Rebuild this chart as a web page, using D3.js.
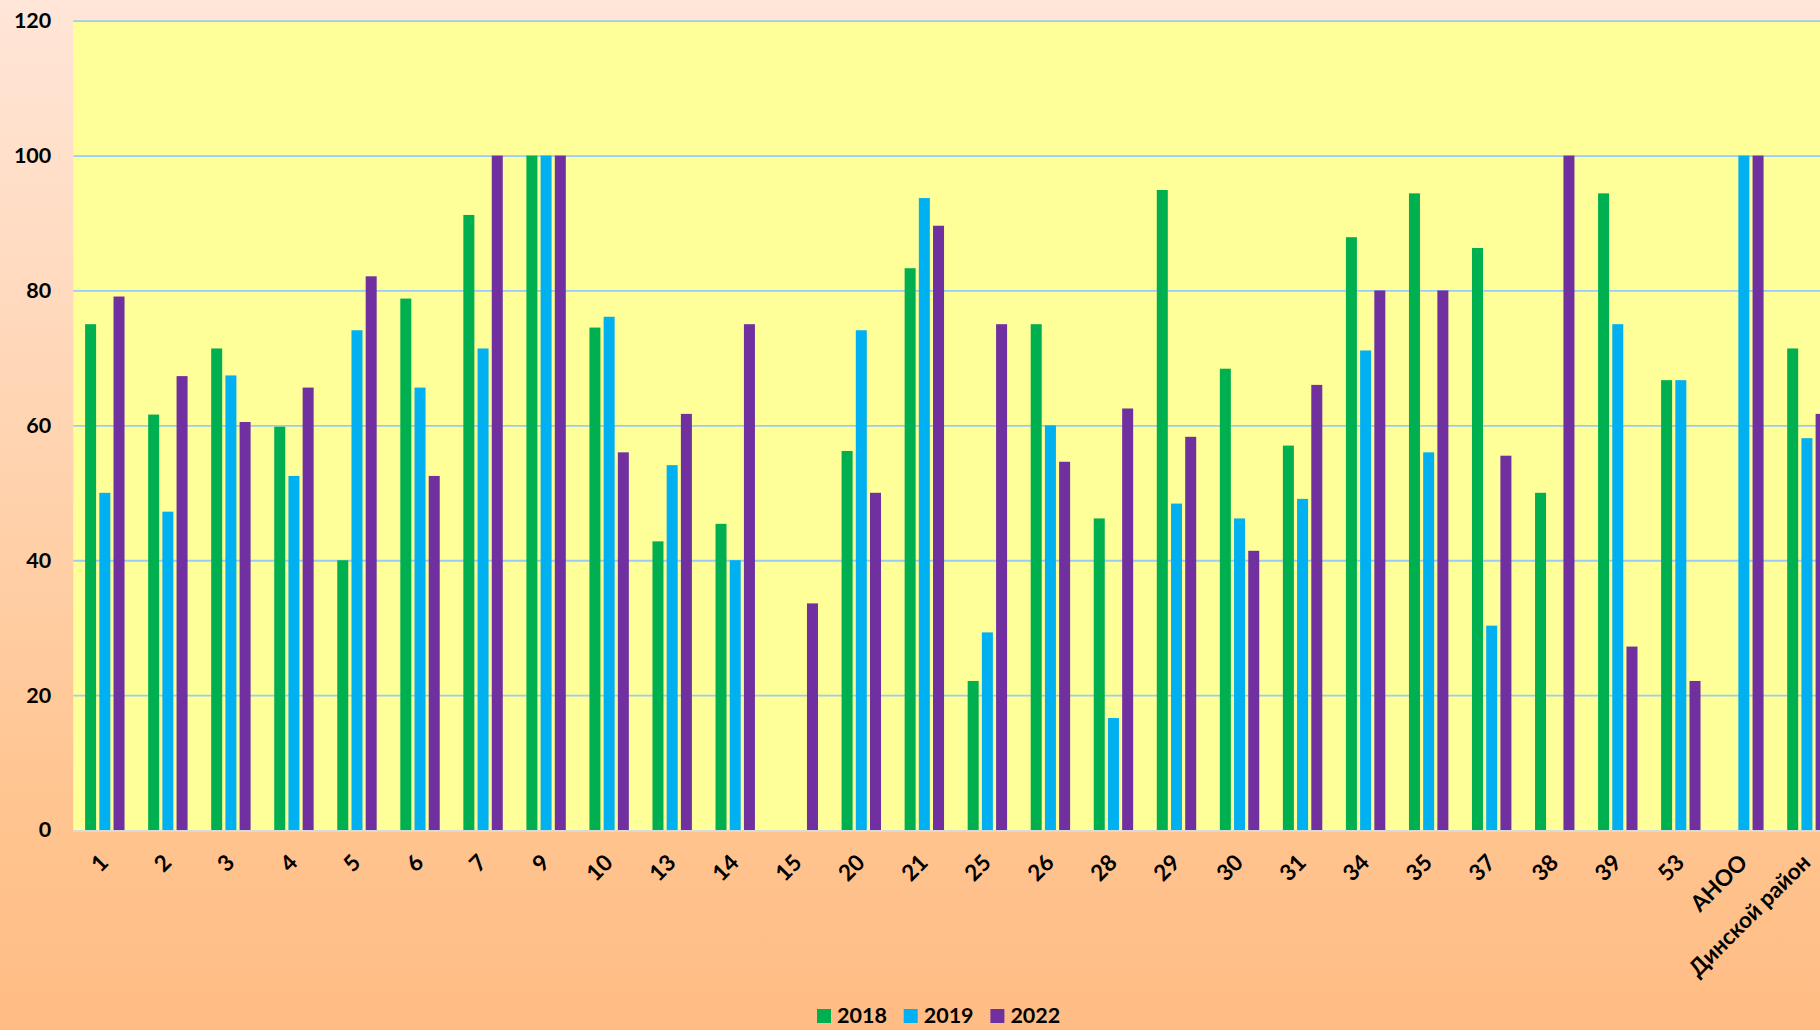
<!doctype html>
<html lang="ru">
	<head>
		<meta charset="utf-8" />
		<title>2018 / 2019 / 2022</title>
		<script type="text/javascript" src="https://d3js.org/d3.v7.min.js"></script>
		<style>
			body { margin: 0; padding: 0; overflow: hidden; }
			svg { display: block; }
		</style>
	</head>

	<body>
		<script type="text/javascript">
			// chart values
			var categories = ["1", "2", "3", "4", "5", "6", "7", "9", "10", "13", "14", "15", "20", "21", "25", "26", "28", "29", "30", "31", "34", "35", "37", "38", "39", "53", "АНОО", "Динской район"];
			var seriesNames = ["2018", "2019", "2022"];
			var values2018 = [75.0, 61.6, 71.4, 59.8, 40.0, 78.8, 91.2, 100, 74.5, 42.8, 45.4, null, 56.2, 83.3, 22.1, 75.0, 46.2, 94.9, 68.4, 57.0, 87.9, 94.4, 86.3, 50.0, 94.4, 66.7, null, 71.4];
			var values2019 = [50.0, 47.2, 67.4, 52.5, 74.1, 65.6, 71.4, 100, 76.1, 54.1, 40.0, null, 74.1, 93.7, 29.3, 60.0, 16.6, 48.4, 46.2, 49.1, 71.1, 56.0, 30.3, null, 75.0, 66.7, 100, 58.1];
			var values2022 = [79.1, 67.3, 60.5, 65.6, 82.1, 52.5, 100, 100, 56.0, 61.7, 75.0, 33.6, 50.0, 89.6, 75.0, 54.6, 62.5, 58.3, 41.4, 66.0, 80.0, 80.0, 55.5, 100, 27.2, 22.1, 100, 61.7];
			var yTicks = [0, 20, 40, 60, 80, 100, 120];

			var seriesValues = [values2018, values2019, values2022];
			var seriesColors = ["#00B050", "#00B0F0", "#7030A0"];

			var w = 1820;
			var h = 1030;
			var fontFamily = "Lato, 'Open Sans', 'Noto Sans', sans-serif";
			// plot runs past the right edge, like the original slide
			var plot = { left: 73.3, right: 73.3 + 28 * 63.04, top: 20.7, bottom: 830 };

			var svg = d3.select("body")
				.append("svg")
				.attr("width", w)
				.attr("height", h);

			// page background gradient
			var defs = svg.append("defs");
			var grad = defs.append("linearGradient")
				.attr("id", "bg")
				.attr("x1", 0).attr("y1", 0)
				.attr("x2", 0).attr("y2", 1);
			grad.append("stop").attr("offset", "0%").attr("stop-color", "#FFE6D8");
			grad.append("stop").attr("offset", "80%").attr("stop-color", "#FFC48F");
			grad.append("stop").attr("offset", "100%").attr("stop-color", "#FFBC84");

			svg.append("rect")
				.attr("width", w)
				.attr("height", h)
				.attr("fill", "url(#bg)");

			var x0 = d3.scaleBand()
				.domain(categories)
				.range([plot.left, plot.right])
				.paddingInner(0.324)
				.paddingOuter(0.162);

			var x1 = d3.scaleBand()
				.domain(seriesNames)
				.range([0, x0.bandwidth()])
				.paddingInner(0.225)
				.paddingOuter(0.1125);

			var y = d3.scaleLinear()
				.domain([0, 120])
				.range([plot.bottom, plot.top]);

			// plot area
			svg.append("rect")
				.attr("x", plot.left)
				.attr("y", plot.top)
				.attr("width", plot.right - plot.left)
				.attr("height", plot.bottom - plot.top)
				.attr("fill", "#FFFF99");

			// gridlines + y labels from an axis
			var yAxis = d3.axisLeft(y)
				.tickValues(yTicks)
				.tickSize(-(plot.right - plot.left))
				.tickPadding(22);

			var gy = svg.append("g")
				.attr("transform", "translate(" + plot.left + ",0)")
				.call(yAxis);
			gy.select(".domain").remove();
			gy.selectAll(".tick line")
				.attr("stroke", function(d) { return d === 0 ? "none" : "#9CCBF5"; })
				.attr("stroke-width", 1.8);
			gy.selectAll(".tick text")
				.attr("fill", "#000")
				.attr("font-size", "21.5px")
				.attr("font-weight", "bold")
				.attr("font-family", fontFamily);

			// bars
			var rows = categories.map(function(c, i) {
				return {
					cat: c,
					bars: seriesNames.map(function(s, k) {
						return { name: s, value: seriesValues[k][i], color: seriesColors[k] };
					})
				};
			});

			svg.append("g")
				.selectAll("g")
				.data(rows)
				.enter()
				.append("g")
				.attr("transform", function(d) { return "translate(" + x0(d.cat) + ",0)"; })
				.selectAll("rect")
				.data(function(d) { return d.bars.filter(function(b) { return b.value !== null; }); })
				.enter()
				.append("rect")
				.attr("x", function(d) { return x1(d.name); })
				.attr("y", function(d) { return y(d.value); })
				.attr("width", x1.bandwidth())
				.attr("height", function(d) { return y(0) - y(d.value); })
				.attr("fill", function(d) { return d.color; });

			// x baseline
			svg.append("line")
				.attr("x1", plot.left)
				.attr("x2", plot.right)
				.attr("y1", y(0) + 1)
				.attr("y2", y(0) + 1)
				.attr("stroke", "#D9D9D9")
				.attr("stroke-width", 2);

			// category labels, rotated
			var xAxis = d3.axisBottom(x0).tickSize(0).tickPadding(0);
			var gx = svg.append("g")
				.attr("transform", "translate(0," + plot.bottom + ")")
				.call(xAxis);
			gx.select(".domain").remove();
			gx.selectAll(".tick text")
				.attr("text-anchor", "end")
				.attr("dy", null)
				.attr("y", null)
				.attr("transform", "translate(5,34) rotate(-45)")
				.attr("fill", "#000")
				.attr("font-size", "22.5px")
				.attr("font-weight", "bold")
				.attr("font-family", fontFamily);

			// legend (kept just inside the bottom edge)
			var legendX = d3.scaleBand()
				.domain(seriesNames)
				.range([817, 817 + 3 * 86.7]);

			var legend = svg.append("g")
				.selectAll("g")
				.data(seriesNames)
				.enter()
				.append("g")
				.attr("transform", function(d) { return "translate(" + legendX(d) + ",1009)"; });

			legend.append("rect")
				.attr("width", 14)
				.attr("height", 14)
				.attr("fill", function(d, i) { return seriesColors[i]; });

			legend.append("text")
				.attr("x", 20)
				.attr("y", 14)
				.attr("fill", "#000")
				.attr("font-size", "21.5px")
				.attr("font-weight", "bold")
				.attr("font-family", fontFamily)
				.text(function(d) { return d; });
		</script>
	</body>
</html>
